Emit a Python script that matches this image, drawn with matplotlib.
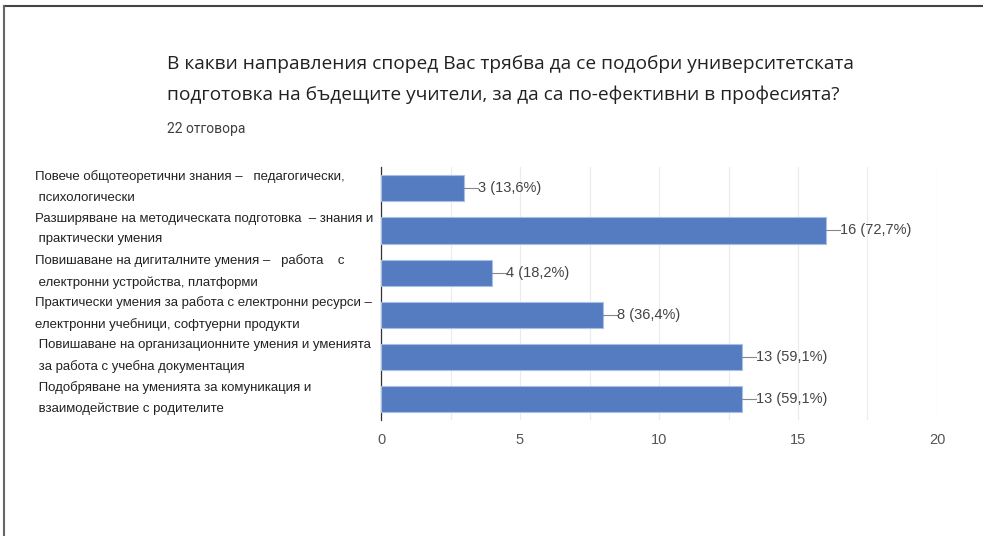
import matplotlib
matplotlib.use('Agg')
import matplotlib.pyplot as plt
import matplotlib.transforms as mtransforms
from matplotlib.lines import Line2D

# data
categories = [
    'Повече общотеоретични знания –   педагогически,\n психологически',
    'Разширяване на методическата подготовка  – знания и\n практически умения',
    'Повишаване на дигиталните умения –   работа    с\n електронни устройства, платформи',
    'Практически умения за работа с електронни ресурси –\nелектронни учебници, софтуерни продукти',
    ' Повишаване на организационните умения и уменията\n за работа с учебна документация',
    ' Подобряване на уменията за комуникация и\n взаимодействие с родителите',
]
counts = [3, 16, 4, 8, 13, 13]
percents = ['13,6%', '72,7%', '18,2%', '36,4%', '59,1%', '59,1%']
xticks = [0, 5, 10, 15, 20]
title = ('В какви направления според Вас трябва да се подобри университетската\n'
         'подготовка на бъдещите учители, за да са по-ефективни в професията?')
subtitle = '22 отговора'

plt.rcParams['font.family'] = ['Liberation Sans', 'DejaVu Sans']

fig = plt.figure(figsize=(9.83, 5.36), dpi=100)
ax = fig.add_axes([0.3876, 0.216, 0.5656, 0.472])

bar_color = '#557cc1'
y = list(range(len(categories)))
ax.barh(y, counts, height=0.62, color=bar_color, edgecolor='#a9bfe6', linewidth=0.8, zorder=3)

ax.set_ylim(len(categories) - 0.5, -0.5)
ax.set_xlim(0, 20)
ax.set_xticks(xticks)
ax.set_xticks([2.5, 7.5, 12.5, 17.5], minor=True)
ax.set_xticklabels([str(t) for t in xticks], color='#555555', fontsize=10.5)
ax.tick_params(axis='x', which='both', length=0, pad=9)
ax.set_yticks([])
ax.grid(axis='x', which='both', color='#ebebeb', linewidth=0.8, zorder=0)
for s in ['top', 'right', 'bottom']:
    ax.spines[s].set_visible(False)
ax.spines['left'].set_color('#333333')
ax.spines['left'].set_linewidth(0.9)

# value labels with connector lines
for i, (c, p) in enumerate(zip(counts, percents)):
    ax.plot([c, c + 0.5], [i, i], color='#888888', linewidth=0.8, zorder=4)
    ax.text(c + 0.5, i, f'{c} ({p})', va='center', ha='left', fontsize=10.5,
            color='#444444', zorder=5)

# category labels on the left
trans = mtransforms.blended_transform_factory(fig.transFigure, ax.transData)
for i, lab in enumerate(categories):
    ax.text(35 / 983, i - 0.03, lab, transform=trans, ha='left', va='center',
            fontsize=9.5, color='#222222', linespacing=1.95, clip_on=False)

# title and subtitle
fig.text(167 / 983, 1 - 55 / 536, title, ha='left', va='top', fontsize=13.8,
         color='#202124', family=['Open Sans', 'DejaVu Sans'], linespacing=1.87)
fig.text(167 / 983, 1 - 129 / 536, subtitle, ha='left', va='center', fontsize=10,
         color='#3c4043', family=['Roboto', 'DejaVu Sans'])

# frame lines (top and left)
fig.add_artist(Line2D([4 / 983, 1], [1 - 6 / 536, 1 - 6 / 536], transform=fig.transFigure,
                      color='#444444', linewidth=1.5))
fig.add_artist(Line2D([4 / 983, 4 / 983], [0, 1 - 6 / 536], transform=fig.transFigure,
                      color='#666666', linewidth=1.5))

plt.savefig('out.png', dpi=100)
